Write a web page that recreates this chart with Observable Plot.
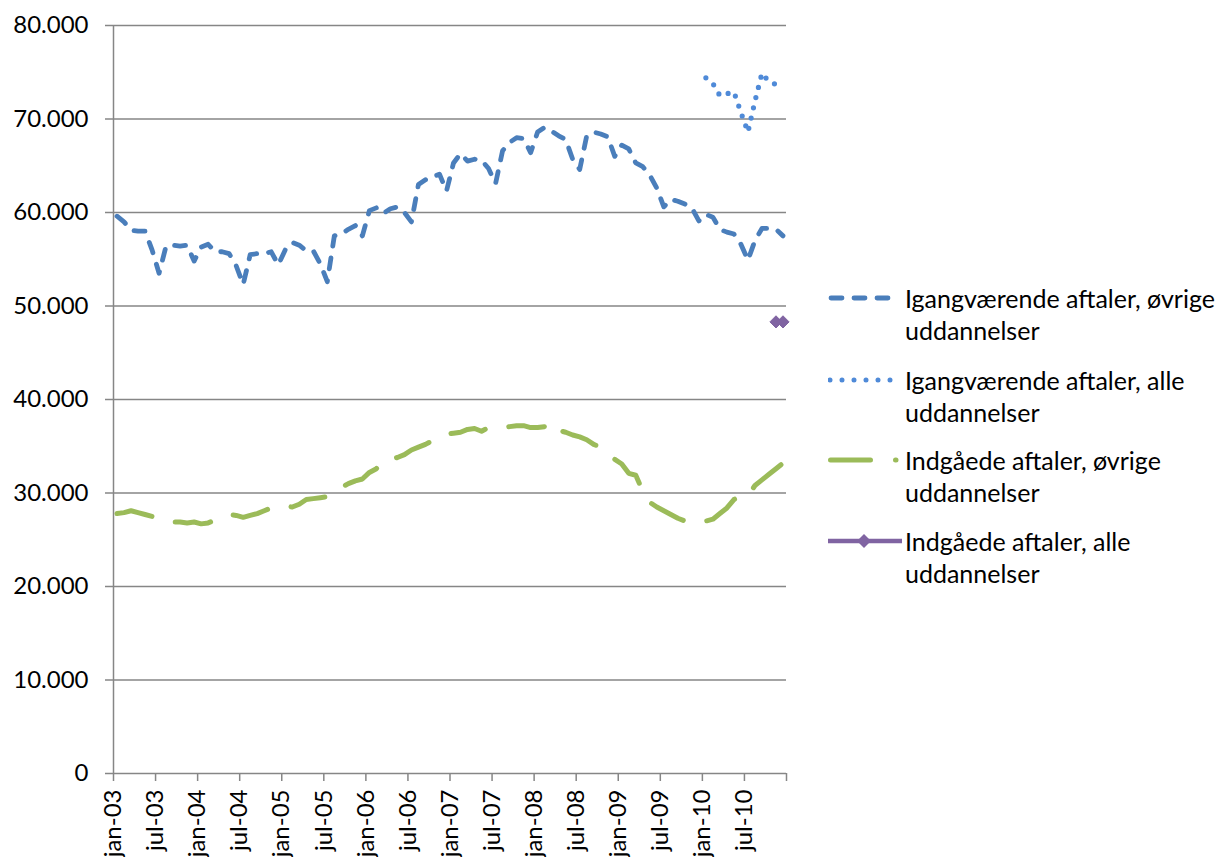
<!DOCTYPE html>
<html><head><meta charset="utf-8">
<script src="https://cdn.jsdelivr.net/npm/d3@7"></script>
<script src="https://cdn.jsdelivr.net/npm/@observablehq/plot@0.6"></script>
<style>
body{margin:0;background:#fff;}
#wrap{position:relative;width:1220px;height:857px;overflow:hidden;font-family:Lato,"Open Sans",sans-serif;}
#legend{position:absolute;left:828px;top:0;}
.entry{position:absolute;left:0;width:400px;}
.entry svg{position:absolute;left:0;top:0;}
.entry .txt{position:absolute;left:77px;top:0;font-size:25px;line-height:32px;color:#000;white-space:nowrap;}
</style></head>
<body><div id="wrap"><div id="chart"></div><div id="legend"></div></div>
<script>
// x tick labels (every 6 months, first month index 0 = jan-03)
const tickLabels = ["jan-03","jul-03","jan-04","jul-04","jan-05","jul-05","jan-06","jul-06","jan-07","jul-07","jan-08","jul-08","jan-09","jul-09","jan-10","jul-10",""];
const tickMonths = [0,6,12,18,24,30,36,42,48,54,60,66,72,78,84,90,96];
const yTicks = [0,10000,20000,30000,40000,50000,60000,70000,80000];

const seriesNames = ["Igangværende aftaler, øvrige uddannelser","Igangværende aftaler, alle uddannelser","Indgåede aftaler, øvrige uddannelser","Indgåede aftaler, alle uddannelser"];
const colors = ["#4A7EBB","#4F8AD8","#9BBB59","#8064A2"];

// Igangværende aftaler, øvrige uddannelser (thousands), jan-03 .. dec-10
const igangOevrige = [59.6,59.0,58.1,58.0,58.0,56.0,53.5,56.4,56.5,56.4,56.5,54.8,
 56.3,56.6,55.8,55.8,55.6,54.3,52.3,55.5,55.6,55.6,55.8,54.4,
 56.0,56.8,56.5,55.9,55.9,54.5,52.6,57.5,57.7,58.2,58.6,57.5,
 60.2,60.5,59.9,60.4,60.6,60.0,59.0,63.0,63.5,63.8,64.1,62.3,
 65.3,66.3,65.5,65.7,65.6,64.7,63.1,66.6,67.5,68.0,67.9,66.4,
 68.6,69.1,68.7,68.2,67.8,65.7,64.6,68.2,68.6,68.4,68.1,66.0,
 67.2,66.8,65.3,64.9,64.0,62.6,60.6,61.4,61.2,60.9,60.5,59.1,
 59.8,59.5,58.2,57.9,57.7,56.6,54.9,57.0,58.3,58.3,58.2,57.5];
// Igangværende aftaler, alle uddannelser, jan-10 .. dec-10
const igangAlleStart = 84;
const igangAlle = [74.4,73.8,72.5,72.7,72.9,70.7,68.6,71.9,74.9,74.0,73.7,73.4];
// Indgåede aftaler, øvrige uddannelser, jan-03 .. dec-10
const indgOevrige = [27.8,27.9,28.1,27.9,27.7,27.5,27.3,27.1,26.9,26.9,26.8,26.9,
 26.7,26.8,27.1,27.4,27.7,27.6,27.4,27.6,27.8,28.1,28.4,28.6,
 28.6,28.5,28.8,29.3,29.4,29.5,29.6,30.2,30.6,31.0,31.3,31.5,
 32.2,32.6,33.5,33.6,33.8,34.1,34.6,34.9,35.2,35.6,36.0,36.3,
 36.4,36.5,36.8,36.9,36.6,37.0,37.0,37.0,37.1,37.2,37.2,37.0,
 37.0,37.1,36.2,36.7,36.5,36.2,36.0,35.7,35.2,34.9,34.1,33.6,
 33.1,32.1,31.9,30.2,29.0,28.5,28.1,27.7,27.3,27.0,26.8,26.9,
 27.0,27.2,27.8,28.4,29.3,29.7,29.7,30.8,31.4,32.0,32.6,33.2];
// Indgåede aftaler, alle uddannelser, nov-10 .. dec-10
const indgAlleStart = 94;
const indgAlle = [48.3,48.3];

const toRows = (arr, start) => arr.map((v,i) => ({m: start + i + 0.5, v: v*1000}));
const rowsA = toRows(igangOevrige, 0);
const rowsB = toRows(igangAlle, igangAlleStart);
const rowsC = toRows(indgOevrige, 0);
const rowsD = toRows(indgAlle, indgAlleStart);

const gray = "#868686";
const fmtY = d => d === 0 ? "0" : d3.format(",")(d).replace(/,/g, ".");

const chart = Plot.plot({
  width: 1220, height: 857,
  marginLeft: 113, marginRight: 434, marginTop: 25, marginBottom: 84,
  style: {fontFamily: "Lato, 'Open Sans', sans-serif", fontSize: "24px", color: "#000", background: "#fff"},
  x: {type: "linear", domain: [0, 96]},
  y: {domain: [0, 80000]},
  marks: [
    Plot.gridY(yTicks, {stroke: gray, strokeOpacity: 1, strokeWidth: 1.5}),
    Plot.ruleX([0], {stroke: gray, strokeWidth: 1.5}),
    Plot.axisY(yTicks, {tickFormat: fmtY, tickSize: 8, tickPadding: 17, stroke: gray, strokeWidth: 1.5, fill: "#000", fontSize: 24, label: null}),
    Plot.axisX(tickMonths, {tickFormat: (d,i) => tickLabels[i], tickRotate: -90, tickSize: 8, tickPadding: 8, stroke: gray, strokeWidth: 1.5, fill: "#000", fontSize: 24, label: null}),
    Plot.line(rowsC, {x: "m", y: "v", stroke: colors[2], strokeWidth: 5, strokeDasharray: "36,24", strokeLinecap: "round", strokeLinejoin: "round"}),
    Plot.line(rowsA, {x: "m", y: "v", stroke: colors[0], strokeWidth: 4.8, strokeDasharray: "11,12", strokeLinecap: "round", strokeLinejoin: "round"}),
    Plot.line(rowsB, {x: "m", y: "v", stroke: colors[1], strokeWidth: 5.2, strokeDasharray: "0,10.5", strokeLinecap: "round", strokeLinejoin: "round"}),
    Plot.line(rowsD, {x: "m", y: "v", stroke: colors[3], strokeWidth: 4}),
    Plot.dot(rowsD, {x: "m", y: "v", symbol: "diamond2", r: 5.5, fill: colors[3], stroke: colors[3], strokeWidth: 1})
  ]
});
document.getElementById("chart").appendChild(chart);

// legend
const legendTops = [282, 364, 444, 525];
const swatches = [
  `<line x1="3" y1="16" x2="62" y2="16" stroke="${colors[0]}" stroke-width="4.8" stroke-dasharray="11,12" stroke-linecap="round"/>`,
  `<line x1="2" y1="16" x2="63" y2="16" stroke="${colors[1]}" stroke-width="5" stroke-dasharray="0,12" stroke-linecap="round"/>`,
  `<line x1="2.5" y1="16" x2="68" y2="16" stroke="${colors[2]}" stroke-width="5" stroke-dasharray="40,25" stroke-linecap="round"/>`,
  `<line x1="0" y1="16" x2="74" y2="16" stroke="${colors[3]}" stroke-width="4.5"/><path d="M36,9 L43,16 L36,23 L29,16 Z" fill="${colors[3]}"/>`
];
const leg = document.getElementById("legend");
seriesNames.forEach((name, i) => {
  const e = document.createElement("div");
  e.className = "entry";
  e.style.top = legendTops[i] + "px";
  const parts = name.split(" uddannelser");
  e.innerHTML = `<svg width="77" height="32">${swatches[i]}</svg><div class="txt">${parts[0]}<br>uddannelser</div>`;
  leg.appendChild(e);
});
</script></body></html>
